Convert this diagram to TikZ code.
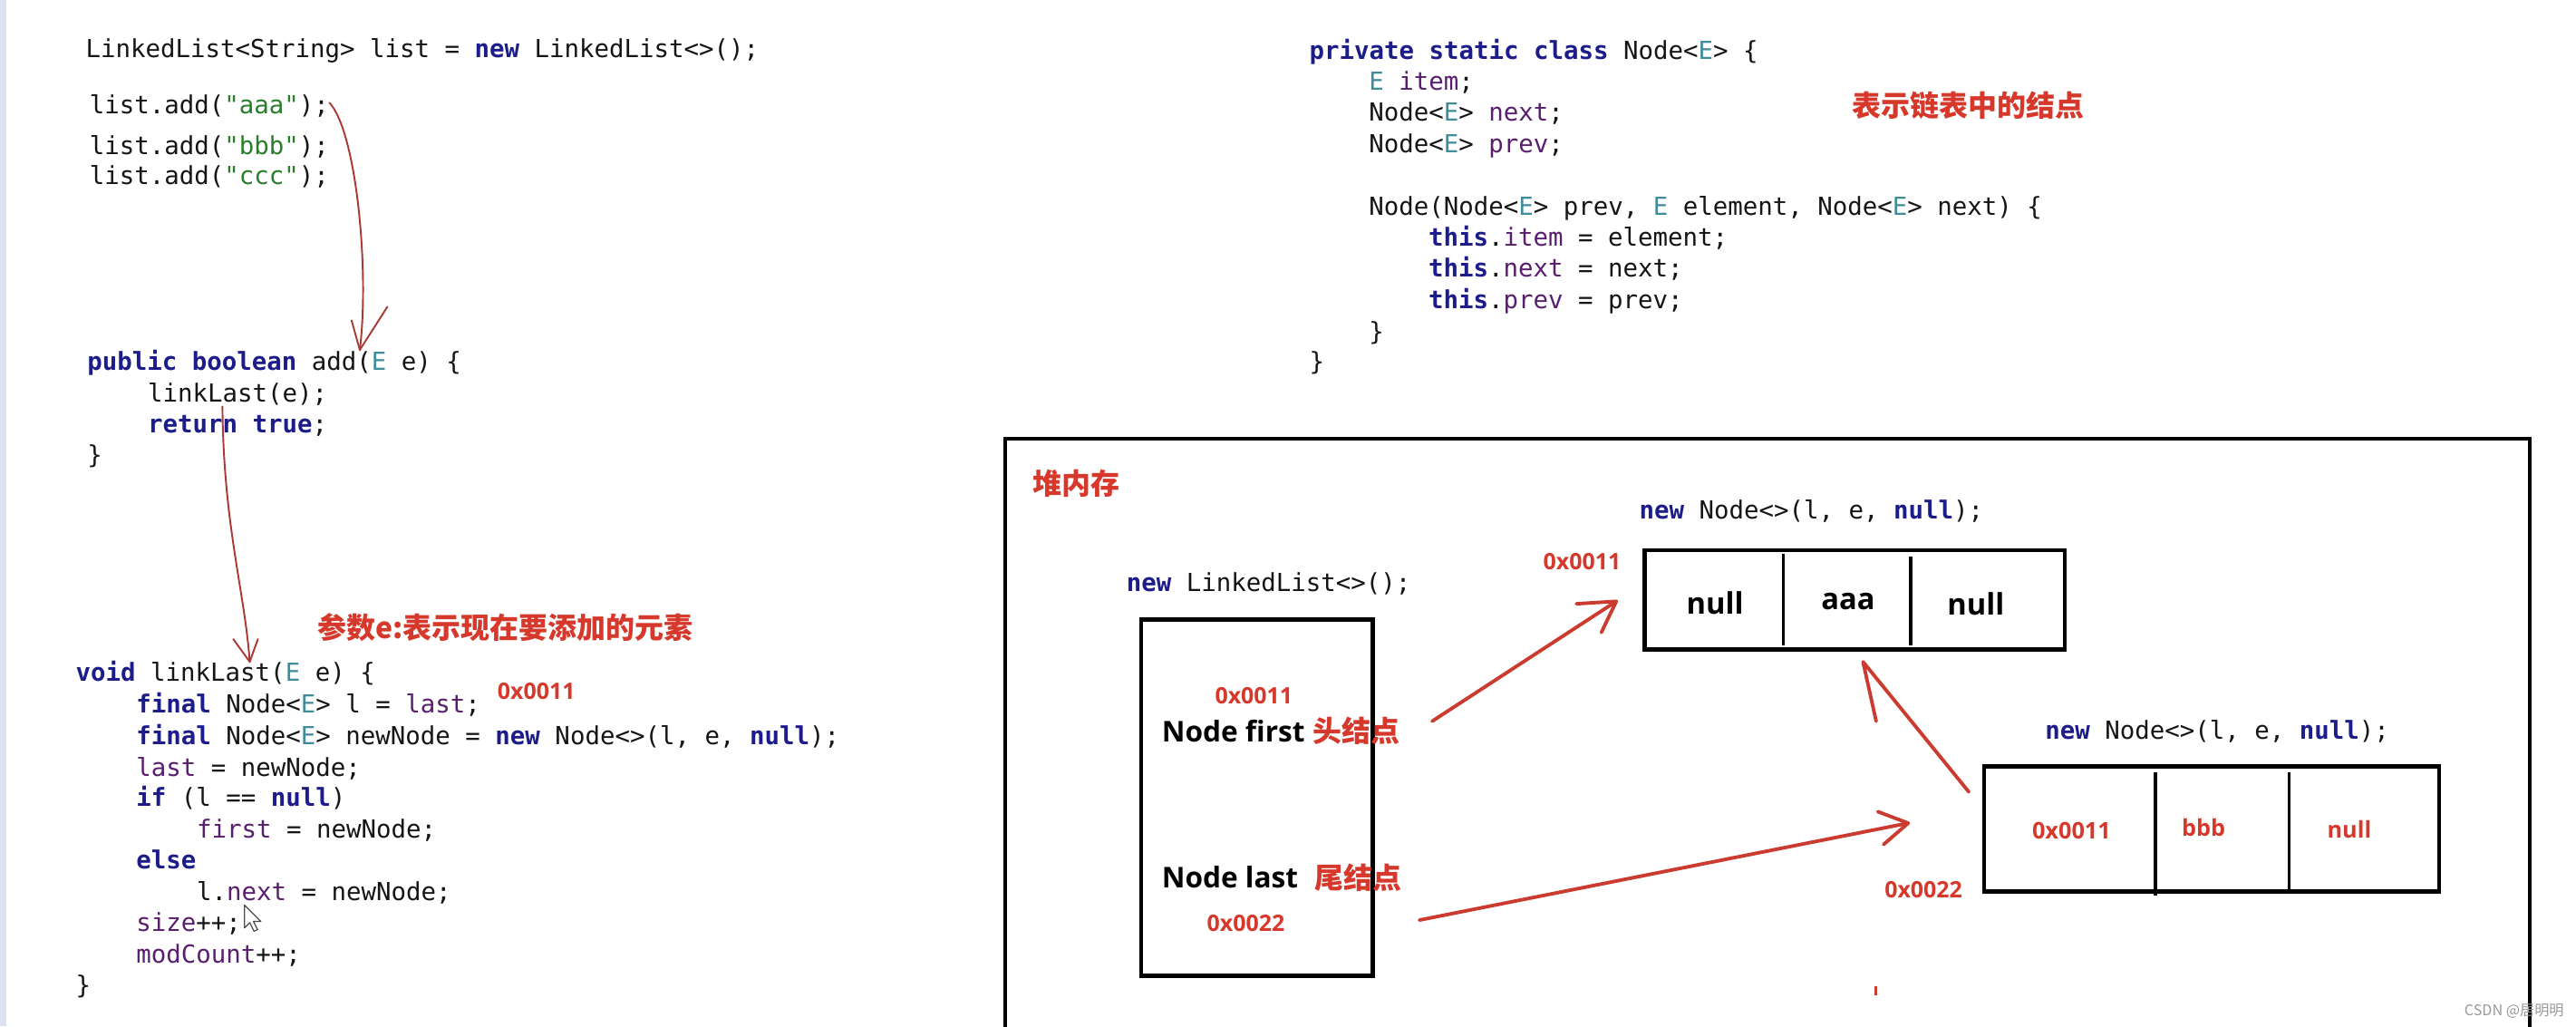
\documentclass[tikz,border=0pt]{standalone}
\usepackage{fontspec}
\setmainfont{Open Sans}
\newfontfamily\codefont{DejaVu Sans Mono}
\newfontfamily\cjk{Noto Sans CJK SC}
\newfontfamily\opensans{Open Sans}
\definecolor{kwc}{HTML}{1C1C8A}
\definecolor{tyc}{HTML}{3F8C9B}
\definecolor{fdc}{HTML}{5A1E6E}
\definecolor{stc}{HTML}{2A7D2A}
\definecolor{codeblack}{HTML}{151515}
\definecolor{redc}{HTML}{D6392B}
\definecolor{penred}{HTML}{CC3B30}
\definecolor{thinpen}{HTML}{A93A36}
\definecolor{barc}{HTML}{DCE2EF}
\newcommand\cdkw[1]{{\bfseries\color{kwc}#1}}
\newcommand\cdty[1]{{\color{tyc}#1}}
\newcommand\cdfd[1]{{\color{fdc}#1}}
\newcommand\cdst[1]{{\color{stc}#1}}
\begin{document}
\begin{tikzpicture}[x=0.018125cm, y=-0.018125cm,
  code/.style={anchor=base west, inner sep=0pt, text=codeblack, font=\codefont\fontsize{7.8}{9}\selectfont},
  redcjk/.style={anchor=west, inner sep=0pt, text=redc, font=\cjk\bfseries\fontsize{9.1}{10}\selectfont},
  addr/.style={inner sep=0pt, text=redc, font=\opensans\bfseries\fontsize{7.1}{8}\selectfont},
  cell/.style={inner sep=0pt, text=black, font=\opensans\bfseries\fontsize{9.3}{10}\selectfont},
  namecell/.style={anchor=west, inner sep=0pt, text=black, font=\opensans\bfseries\fontsize{9.0}{10}\selectfont},
  redcell/.style={inner sep=0pt, text=redc, font=\opensans\bfseries\fontsize{7.2}{8}\selectfont},
  boxline/.style={draw=black, line width=1.3pt},
  divline/.style={draw=black, line width=1.0pt},
  penthick/.style={draw=penred, line width=1.1pt, line cap=round, line join=round},
  penthin/.style={draw=thinpen, line width=0.55pt, line cap=round, line join=round}]
\useasboundingbox (0,0) rectangle (1568,624.55);
\fill[white] (0,0) rectangle (1568,624.55);
\fill[barc] (0,0) rectangle (4,624.55);

% ---------- left code ----------
\node[code] (c1) at (51.8,35) {LinkedList<String> list = \cdkw{new} LinkedList<>();};
\node[code] (c2) at (54.2,69) {list.add(\cdst{"aaa"});};
\node[code] (c3) at (54.2,93.8) {list.add(\cdst{"bbb"});};
\node[code] (c4) at (54.2,112.2) {list.add(\cdst{"ccc"});};
\node[code] (c5) at (52.8,225.3) {\cdkw{public boolean} add(\cdty{E} e) \{};
\node[code] (c6) at (89.6,244.6) {linkLast(e);};
\node[code] (c7) at (89.6,263.3) {\cdkw{return true};};
\node[code] (c8) at (52.8,282.3) {\}};
\node[redcjk] (lbl1) at (193,381.6) {参数e:表示现在要添加的元素};
\node[code] (c9) at (45.8,414.7) {\cdkw{void} linkLast(\cdty{E} e) \{};
\node[code] (c10) at (82.6,433.7) {\cdkw{final} Node<\cdty{E}> l = \cdfd{last};};
\node[addr, anchor=base west] (ad0) at (302.5,425.7) {0x0011};
\node[code] (c11) at (82.6,453.3) {\cdkw{final} Node<\cdty{E}> newNode = \cdkw{new} Node<>(l, e, \cdkw{null});};
\node[code] (c12) at (82.6,472.3) {\cdfd{last} = newNode;};
\node[code] (c13) at (82.6,491) {\cdkw{if} (l == \cdkw{null})};
\node[code] (c14) at (119.4,510.3) {\cdfd{first} = newNode;};
\node[code] (c15) at (82.6,529) {\cdkw{else}};
\node[code] (c16) at (119.4,548) {l.\cdfd{next} = newNode;};
\node[code] (c17) at (82.6,567) {\cdfd{size}++;};
\node[code] (c18) at (82.6,586) {\cdfd{modCount}++;};
\node[code] (c19) at (45.8,605) {\}};

% mouse cursor
\coordinate (cur) at (148.8,550.8);
\filldraw[fill=white, draw=black!70, line width=0.35pt, line join=round]
  (cur) -- ++(0,14) -- ++(3.3,-3.2) -- ++(2.5,5.2) -- ++(2.2,-1) -- ++(-2.5,-5) -- ++(4.5,0) -- cycle;

% ---------- right code ----------
\node[code] (r1) at (796.6,35.9) {\cdkw{private static class} Node<\cdty{E}> \{};
\node[code] (r2) at (832.9,54.8) {\cdty{E} \cdfd{item};};
\node[code] (r3) at (832.9,73.9) {Node<\cdty{E}> \cdfd{next};};
\node[code] (r4) at (832.9,92.9) {Node<\cdty{E}> \cdfd{prev};};
\node[code] (r5) at (832.9,130.9) {Node(Node<\cdty{E}> prev, \cdty{E} element, Node<\cdty{E}> next) \{};
\node[code] (r6) at (869.2,149.9) {\cdkw{this}.\cdfd{item} = element;};
\node[code] (r7) at (869.2,168.8) {\cdkw{this}.\cdfd{next} = next;};
\node[code] (r8) at (869.2,187.6) {\cdkw{this}.\cdfd{prev} = prev;};
\node[code] (r9) at (832.9,206.9) {\}};
\node[code] (r10) at (796.6,225.3) {\}};
\node[redcjk] (lbl2) at (1127,64.4) {表示链表中的结点};

% ---------- heap ----------
\coordinate (hbl) at (611.8,626);
\coordinate (htl) at (611.8,266.8);
\coordinate (htr) at (1540,266.8);
\coordinate (hbr) at (1540,626);
\draw[line width=1.1pt] (hbl) -- (htl) -- (htr) -- (hbr);
\node[redcjk] (heaplbl) at (628.4,294) {堆内存};

\node[code] (newll) at (685.3,360.2) {\cdkw{new} LinkedList<>();};
\coordinate (llA) at (694.6,377.2);
\coordinate (llB) at (835.5,593.8);
\draw[boxline] (llA) rectangle (llB);
\node[addr] (ad1) at (763.2,423.6) {0x0011};
\node[namecell] (nf) at (706.8,444.9) {Node first};
\node[redcjk] (nfl) at (799,444.9) {头结点};
\node[namecell] (nl) at (706.8,534) {Node last};
\node[redcjk] (nll) at (800,534) {尾结点};
\node[addr] (ad2) at (758.3,561.9) {0x0022};

% first node
\node[code] (new1) at (997.4,315.8) {\cdkw{new} Node<>(l, e, \cdkw{null});};
\node[addr] (ad3) at (963,341.7) {0x0011};
\coordinate (b1A) at (1001,334.9);
\coordinate (b1B) at (1256.7,395.2);
\draw[boxline] (b1A) rectangle (b1B);
\draw[divline] (1085.6,337) -- (1085.6,393);
\draw[divline] (1162.9,339) -- (1162.9,393);
\node[cell] (n1p) at (1043.9,366.8) {null};
\node[cell] (n1i) at (1124.9,366.1) {aaa};
\node[cell] (n1n) at (1202.7,367.8) {null};

% second node
\node[code] (new2) at (1244.5,450) {\cdkw{new} Node<>(l, e, \cdkw{null});};
\coordinate (b2A) at (1207.7,466.6);
\coordinate (b2B) at (1484.7,542.7);
\draw[boxline] (b2A) rectangle (b2B);
\draw[divline] (1311.9,470) -- (1311.9,545);
\draw[divline] (1393.4,470) -- (1393.4,542.7);
\node[redcell] (n2p) at (1260.9,505.6) {0x0011};
\node[redcell] (n2i) at (1341.3,503.7) {bbb};
\node[redcell] (n2n) at (1430,504.9) {null};
\node[addr] (ad4) at (1170.8,541.6) {0x0022};

% small red tick
\draw[penred, line width=0.9pt] (1142,600.5) -- (1142,606);

% watermark
\node[inner sep=0pt, anchor=east, text=black!40, font=\cjk\fontsize{4.6}{5}\selectfont] (wm) at (1561,615.2) {CSDN @居明明};

% ---------- hand-drawn arrows ----------
\coordinate (As) at (200.5,62.5);
\coordinate (At) at (219,213);
\draw[penthin] (As) .. controls (217,80) and (225,165) .. (At);
\draw[penthin] (214,195) -- (At) -- (235.8,186.7);

\coordinate (Bs) at (135.4,247.4);
\coordinate (Bt) at (152,402.8);
\draw[penthin] (Bs) .. controls (136,320) and (149,360) .. (Bt);
\draw[penthin] (142,389) -- (Bt) -- (157,389);

\coordinate (Cs) at (871.7,439);
\coordinate (Ct) at (983.8,366);
\draw[penthick] (Cs) -- (Ct);
\draw[penthick] (959.5,367.5) -- (Ct) -- (974.7,385);

\coordinate (Ds) at (1198.4,482);
\coordinate (Dt) at (1134,402.8);
\draw[penthick] (Ds) -- (Dt) -- (1142,439);

\coordinate (Es) at (864,560);
\coordinate (Et) at (1161.5,501);
\draw[penthick] (Es) -- (Et);
\draw[penthick] (1143,494) -- (Et) -- (1146.5,514);
\end{tikzpicture}
\end{document}
